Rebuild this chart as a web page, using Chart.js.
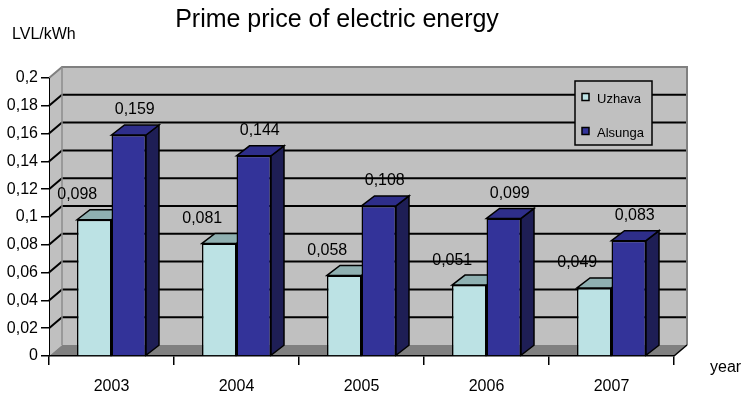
<!DOCTYPE html>
<html>
<head>
<meta charset="utf-8">
<script src="https://cdn.jsdelivr.net/npm/chart.js@4.4.1/dist/chart.umd.min.js"></script>
<style>
  html, body { margin: 0; padding: 0; background: #fff; }
  #wrap { width: 743px; height: 394px; }
</style>
</head>
<body>
<div id="wrap"><canvas id="chart-price"></canvas></div>
<script>
// ---- data ----
const years   = ["2003", "2004", "2005", "2006", "2007"];
const uzhava  = [0.098, 0.081, 0.058, 0.051, 0.049];
const alsunga = [0.159, 0.144, 0.108, 0.099, 0.083];
const yMin = 0, yMax = 0.2, yStep = 0.02;

const FONT = "'Liberation Sans', Arial, sans-serif";
const fmt = (v) => String(Math.round(v * 1000) / 1000).replace(".", ",");

// 3D look: depth offsets for walls and bars
const WALL = { dx: 13, dy: -11 };
const BAR  = { dx: 13, dy: -10 };

// faces for each series: [front, top, side]
const FACES = [
  { front: "#bce2e4", top: "#8fb0b1", side: "#7a9a9b" },
  { front: "#333399", top: "#2e2e8a", side: "#1e1e55" }
];

const poly = (ctx, pts, fill, stroke, lw) => {
  ctx.beginPath();
  pts.forEach(([x, y], i) => i ? ctx.lineTo(x, y) : ctx.moveTo(x, y));
  ctx.closePath();
  if (fill) { ctx.fillStyle = fill; ctx.fill(); }
  if (stroke) { ctx.strokeStyle = stroke; ctx.lineWidth = lw || 1; ctx.stroke(); }
};

const line = (ctx, pts, color, lw) => {
  ctx.beginPath();
  pts.forEach(([x, y], i) => i ? ctx.lineTo(x, y) : ctx.moveTo(x, y));
  ctx.strokeStyle = color; ctx.lineWidth = lw; ctx.stroke();
};

// ─── walls, floor, back gridlines, 3D bar tops/sides, labels, legend ───
const box3d = {
  id: "box3d",
  beforeDraw(chart) {
    const { ctx, chartArea: a, scales: { y } } = chart;
    const { dx, dy } = WALL;
    ctx.save();
    // back wall + left wall
    ctx.fillStyle = "#c0c0c0";
    ctx.fillRect(a.left + dx, a.top + dy, a.width, a.height);
    poly(ctx, [[a.left, a.top], [a.left + dx, a.top + dy], [a.left + dx, a.bottom + dy], [a.left, a.bottom]], "#c0c0c0");
    // gridlines on walls
    y.ticks.forEach(t => {
      if (t.value <= yMin + 1e-9 || t.value >= yMax - 1e-9) return;
      const yy = y.getPixelForValue(t.value);
      line(ctx, [[a.left, yy], [a.left + dx, yy + dy], [a.right + dx, yy + dy]], "#000", 2);
    });
    // floor
    poly(ctx, [[a.left, a.bottom], [a.left + dx, a.bottom + dy], [a.right + dx, a.bottom + dy], [a.right, a.bottom]], "#808080");
    // wall borders
    line(ctx, [[a.left, a.top], [a.left + dx, a.top + dy], [a.right + dx, a.top + dy], [a.right + dx, a.bottom + dy]], "#808080", 2);
    line(ctx, [[a.left + dx, a.top + dy], [a.left + dx, a.bottom + dy]], "#8c8c8c", 1.5);
    line(ctx, [[a.right, a.bottom], [a.right + dx, a.bottom + dy]], "#000", 1.5);
    ctx.restore();
  },
  beforeDatasetsDraw(chart) {
    const { ctx } = chart;
    ctx.save();
    chart.data.datasets.forEach((ds, i) => {
      chart.getDatasetMeta(i).data.forEach(el => {
        const { x, y, base, width } = el.getProps(["x", "y", "base", "width"], true);
        const l = x - width / 2, r = x + width / 2;
        poly(ctx, [[r, y], [r + BAR.dx, y + BAR.dy], [r + BAR.dx, base + BAR.dy], [r, base]], FACES[i].side, "#000", 1.5);
        poly(ctx, [[l, y], [l + BAR.dx, y + BAR.dy], [r + BAR.dx, y + BAR.dy], [r, y]], FACES[i].top, "#000", 1.5);
      });
    });
    ctx.restore();
  },
  afterDatasetsDraw(chart) {
    const { ctx } = chart;
    const shift = [-17, 6];
    ctx.save();
    ctx.font = "16px " + FONT;
    ctx.fillStyle = "#000";
    ctx.textAlign = "center";
    ctx.textBaseline = "middle";
    chart.data.datasets.forEach((ds, i) => {
      chart.getDatasetMeta(i).data.forEach((el, j) => {
        ctx.fillText(fmt(ds.data[j]), el.x + shift[i], el.y - 25);
      });
    });
    ctx.restore();
  },
  afterDraw(chart) {
    const { ctx } = chart;
    ctx.save();
    // axis captions
    ctx.fillStyle = "#000";
    ctx.font = "16px " + FONT;
    ctx.textBaseline = "middle";
    ctx.textAlign = "left";
    ctx.fillText("LVL/kWh", 12, 35);
    ctx.fillText("year", 710, 368);
    // legend box
    poly(ctx, [[575, 81], [652, 81], [652, 145], [575, 145]], "#c0c0c0", "#000", 1.5);
    ctx.font = "13px " + FONT;
    chart.data.datasets.forEach((ds, i) => {
      const cy = 97 + i * 34;
      poly(ctx, [[582, cy - 3.5], [589, cy - 3.5], [589, cy + 3.5], [582, cy + 3.5]], ds.backgroundColor, "#000", 1.5);
      ctx.fillStyle = "#000";
      ctx.fillText(ds.label, 597, cy + 2);
    });
    ctx.restore();
  }
};

new Chart(document.getElementById("chart-price"), {
  type: "bar",
  data: {
    labels: years,
    datasets: [
      { label: "Uzhava",  data: uzhava,  backgroundColor: FACES[0].front, borderColor: "#000", borderWidth: 1.5 },
      { label: "Alsunga", data: alsunga, backgroundColor: FACES[1].front, borderColor: "#000", borderWidth: 1.5 }
    ]
  },
  options: {
    responsive: true,
    maintainAspectRatio: false,
    animation: false,
    datasets: { bar: { categoryPercentage: 0.552, barPercentage: 1.0 } },
    layout: { padding: { left: 0, right: 69, top: 0, bottom: 0 } },
    plugins: {
      legend: { display: false },
      tooltip: { enabled: false },
      title: {
        display: true,
        text: "Prime price of electric energy",
        color: "#000",
        font: { family: FONT, size: 25, weight: "normal" },
        padding: { top: 5, bottom: 43 }
      }
    },
    scales: {
      x: {
        afterFit: (s) => { s.height = 38; },
        grid: { display: true, drawOnChartArea: false, drawTicks: true, tickLength: 9, color: "#000", lineWidth: 1.5 },
        border: { display: true, color: "#000", width: 1.5 },
        ticks: { color: "#000", padding: 12, font: { family: FONT, size: 16 } }
      },
      y: {
        min: yMin, max: yMax,
        afterFit: (s) => { s.width = 49; },
        grid: { display: true, drawOnChartArea: false, drawTicks: true, tickLength: 8, color: "#000", lineWidth: 1.5 },
        border: { display: true, color: "#000", width: 1 },
        ticks: { stepSize: yStep, color: "#000", padding: 3, font: { family: FONT, size: 16 }, callback: (v) => fmt(v) }
      }
    }
  },
  plugins: [box3d]
});
</script>
</body>
</html>
